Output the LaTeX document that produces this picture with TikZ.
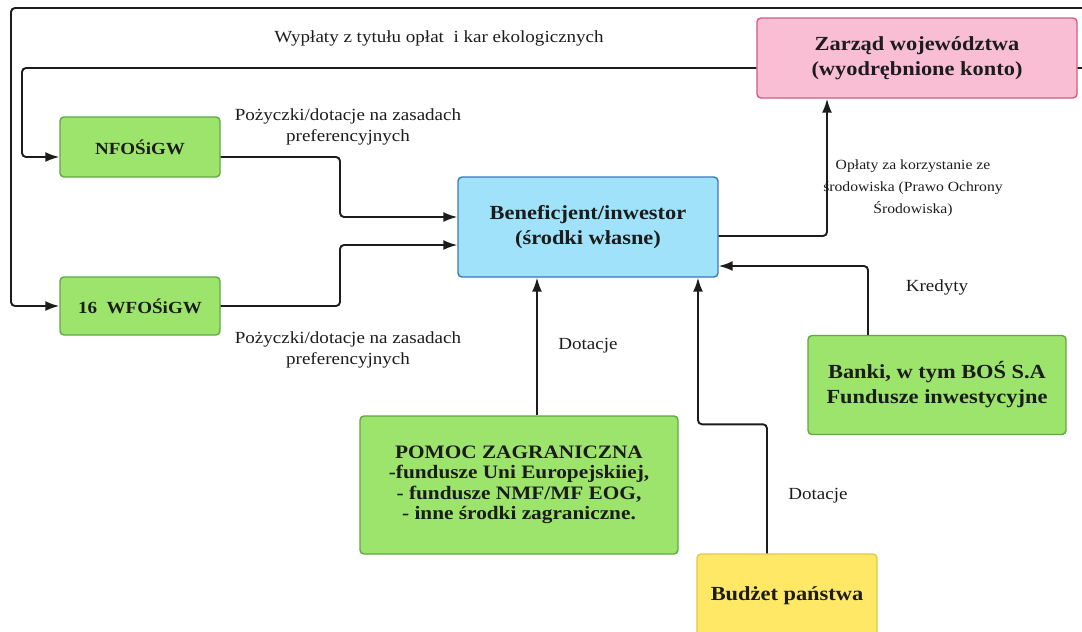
\documentclass[tikz,border=0pt]{standalone}
\usepackage{fontspec}
\setmainfont[FakeStretch=1.12]{Liberation Serif}
\usetikzlibrary{arrows.meta}
\definecolor{fillgreen}{RGB}{157,228,108}
\definecolor{linegreen}{RGB}{98,168,66}
\definecolor{fillpink}{RGB}{250,190,212}
\definecolor{linepink}{RGB}{208,92,132}
\definecolor{fillblue}{RGB}{160,226,250}
\definecolor{lineblue}{RGB}{58,118,190}
\definecolor{fillyellow}{RGB}{255,232,102}
\definecolor{lineyellow}{RGB}{228,198,80}
\definecolor{ink}{RGB}{28,28,28}
\begin{document}
\begin{tikzpicture}[x=1pt,y=-1pt,
    box/.style={draw,rounded corners=4pt,line width=1.4pt,align=center,inner sep=0pt,text=ink,
        font=\fontsize{20}{25}\selectfont\bfseries},
    greenbox/.style={box,fill=fillgreen,draw=linegreen},
    pinkbox/.style={box,fill=fillpink,draw=linepink},
    bluebox/.style={box,fill=fillblue,draw=lineblue},
    yellowbox/.style={box,fill=fillyellow,draw=lineyellow},
    fundbox/.style={greenbox,minimum width=160pt,font=\fontsize{17}{21}\selectfont\bfseries},
    lbl/.style={align=center,text=ink,font=\fontsize{17}{21}\selectfont},
    conn/.style={draw=ink,line width=1.9pt,rounded corners=4pt,-{Latex[length=14pt,width=10pt]}}]
    \useasboundingbox (0,0) rectangle (1082,632);
    \clip (0,0) rectangle (1082,632);
    \node[pinkbox,minimum width=320pt,minimum height=80pt] (zarzad) at (917,58) {Zarząd województwa\\(wyodrębnione konto)};
    \node[fundbox,minimum height=60pt] (nfos) at (140,147) {NFOŚiGW};
    \node[fundbox,minimum height=58pt] (wfos) at (140,306) {16~ WFOŚiGW};
    \node[bluebox,minimum width=260pt,minimum height=100pt] (benef) at (588,227) {Beneficjent/inwestor\\(środki własne)};
    \node[greenbox,minimum width=258pt,minimum height=99pt] (banki) at (937,385) {Banki, w tym BOŚ S.A\\Fundusze inwestycyjne};
    \node[greenbox,minimum width=318pt,minimum height=138pt,font=\fontsize{19}{20.5}\selectfont\bfseries] (pomoc) at (519,485)
        {POMOC ZAGRANICZNA\\-fundusze Uni Europejskiiej,\\- fundusze NMF/MF EOG,\\- inne środki zagraniczne.};
    \node[yellowbox,minimum width=180pt,minimum height=84pt] (budzet) at (787,596) {Budżet państwa};
    % labels
    \node[lbl] (wyplaty) at (439,38) {Wypłaty z tytułu opłat~ i kar ekologicznych};
    \node[lbl] (poznfos) at (348,127) {Pożyczki/dotacje na zasadach\\preferencyjnych};
    \node[lbl] (pozwfos) at (348,350) {Pożyczki/dotacje na zasadach\\preferencyjnych};
    \node[lbl,font=\fontsize{14}{22}\selectfont] (oplaty) at (913,188) {Opłaty za korzystanie ze\\środowiska (Prawo Ochrony\\Środowiska)};
    \node[lbl] (kredyty) at (937,287) {Kredyty};
    \node[lbl] (dotpomoc) at (588,346) {Dotacje};
    \node[lbl] (dotbudzet) at (818,496) {Dotacje};
    % connectors
    \draw[conn] ([yshift=-10pt]zarzad.east) -- (1095,68) -- (1095,8) -- (11,8) |- (wfos.west);
    \draw[conn] ([yshift=-10pt]zarzad.west) -- (22,68) |- ([yshift=-10pt]nfos.west);
    \draw[conn] ([yshift=-10pt]nfos.east) -- (340,157) |- ([yshift=10pt]benef.west);
    \draw[conn] (wfos.east) -- (340,306) |- ([yshift=-18pt]benef.west);
    \draw[conn] ([yshift=-9pt]benef.east) -| ([xshift=-90pt]zarzad.south);
    \draw[conn] ([xshift=-69pt]banki.north) |- ([yshift=-39pt]benef.east);
    \draw[conn] ([xshift=18pt]pomoc.north) -- ([xshift=-51pt]benef.south);
    \draw[conn] ([xshift=-20pt]budzet.north) -- ++(0,-129) -| ([xshift=110pt]benef.south);
\end{tikzpicture}
\end{document}
